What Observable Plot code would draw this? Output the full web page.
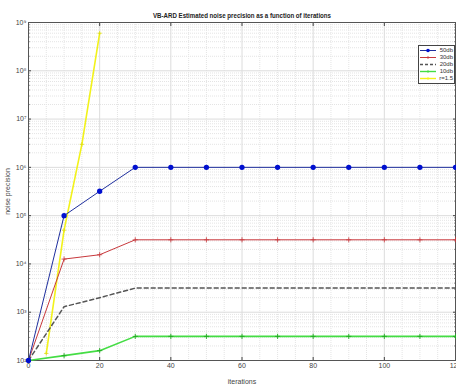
<!DOCTYPE html>
<html><head><meta charset="utf-8">
<script src="https://cdn.jsdelivr.net/npm/d3@7"></script>
<script src="https://cdn.jsdelivr.net/npm/@observablehq/plot@0.6"></script>
<style>
body{margin:0;background:#fff;}
#wrap{position:relative;width:456px;height:385px;font-family:"Liberation Sans Narrow","Liberation Sans",Arial,sans-serif;}
#legend{position:absolute;left:418px;top:45px;width:33px;background:#fff;border:1px solid #444;font-size:6px;padding:1px 1px;line-height:7px;color:#333;}
#legend div{display:flex;align-items:center;justify-content:space-between;height:7px;}
</style></head><body>
<div id="wrap"><div id="chart"></div><div id="legend"></div></div>
<script>
const iterations = [0,10,20,30,40,50,60,70,80,90,100,110,120];
const db50 = [100,1e5,3.2e5,1e6,1e6,1e6,1e6,1e6,1e6,1e6,1e6,1e6,1e6];
const db30 = [100,1.26e4,1.55e4,3.16e4,3.16e4,3.16e4,3.16e4,3.16e4,3.16e4,3.16e4,3.16e4,3.16e4,3.16e4];
const db20 = [100,1.3e3,2e3,3.16e3,3.16e3,3.16e3,3.16e3,3.16e3,3.16e3,3.16e3,3.16e3,3.16e3,3.16e3];
const db10 = [100,126,160,316,316,316,316,316,316,316,316,316,316];
const rIter = [5,10,15,20];
const r15 = [140,5e4,3e6,6e8];
const seriesNames = ["50db","30db","20db","10db","r=1.5"];
const colors = {"50db":"#1f2f9e","30db":"#c8383c","20db":"#555555","10db":"#44dd44","r=1.5":"#f2f21a"};
const xTicks = [0,20,40,60,80,100,120];
const yTicks = [1e2,1e3,1e4,1e5,1e6,1e7,1e8,1e9];
const sup = {"0":"⁰","1":"¹","2":"²","3":"³","4":"⁴","5":"⁵","6":"⁶","7":"⁷","8":"⁸","9":"⁹"};
const titleText = "VB-ARD Estimated noise precision as a function of iterations";

const rows = [];
iterations.forEach((x,i)=>{
  rows.push({s:"50db",x,y:db50[i]});
  rows.push({s:"30db",x,y:db30[i]});
  rows.push({s:"20db",x,y:db20[i]});
  rows.push({s:"10db",x,y:db10[i]});
});
rIter.forEach((x,i)=>rows.push({s:"r=1.5",x,y:r15[i]}));
const of = s => rows.filter(d=>d.s===s);

const minorY = [];
for (let e=2;e<9;e++) for (let m=2;m<10;m++) minorY.push(m*10**e);
const minorX = d3.range(0,121,5).filter(v=>v%20!==0);

const chart = Plot.plot({
  width:456, height:385,
  marginTop:22, marginBottom:25, marginLeft:28, marginRight:1,
  style:{fontFamily:'"Liberation Sans Narrow","Liberation Sans",Arial,sans-serif',fontSize:"7px",background:"#fff",color:"#444"},
  x:{domain:[0,120]},
  y:{type:"log",domain:[1e2,1e9]},
  marks:[
    Plot.ruleY(minorY,{stroke:"#e4e4e4",strokeDasharray:"1,1"}),
    Plot.ruleX(minorX,{stroke:"#e4e4e4",strokeDasharray:"1,1"}),
    Plot.ruleY(yTicks,{stroke:"#dcdcdc"}),
    Plot.ruleX(xTicks,{stroke:"#dcdcdc"}),
    Plot.axisX({ticks:xTicks,tickSize:-3,tickPadding:6,label:"iterations",labelAnchor:"center",labelArrow:"none",labelOffset:23}),
    Plot.axisX({anchor:"top",ticks:xTicks,tickSize:-3,tickFormat:()=>"",label:null}),
    Plot.axisY({ticks:yTicks,tickSize:-3,tickPadding:5,tickFormat:d=>"10"+String(Math.round(Math.log10(d))).split("").map(c=>sup[c]).join(""),label:"noise precision",labelAnchor:"center",labelArrow:"none",labelOffset:23}),
    Plot.axisY({ticks:minorY,tickSize:-1.5,tickFormat:()=>"",label:null}),
    Plot.axisY({anchor:"right",ticks:yTicks,tickSize:-3,tickFormat:()=>"",label:null}),
    Plot.axisY({anchor:"right",ticks:minorY,tickSize:-1.5,tickFormat:()=>"",label:null}),
    Plot.frame({stroke:"#555"}),
    Plot.line(of("r=1.5"),{x:"x",y:"y",stroke:colors["r=1.5"],strokeWidth:1.6}),
    Plot.dot(of("r=1.5"),{x:"x",y:"y",symbol:"plus",r:1.5,stroke:"#dede10",strokeWidth:0.8}),
    Plot.line(of("10db"),{x:"x",y:"y",stroke:colors["10db"],strokeWidth:1.6}),
    Plot.dot(of("10db"),{x:"x",y:"y",symbol:"plus",r:1.8,stroke:"#22aa22",strokeWidth:0.9}),
    Plot.line(of("20db"),{x:"x",y:"y",stroke:colors["20db"],strokeWidth:1.5,strokeDasharray:"4,3"}),
    Plot.line(of("30db"),{x:"x",y:"y",stroke:colors["30db"],strokeWidth:1}),
    Plot.dot(of("30db"),{x:"x",y:"y",symbol:"plus",r:1.8,stroke:"#c8383c",strokeWidth:0.8}),
    Plot.line(of("50db"),{x:"x",y:"y",stroke:colors["50db"],strokeWidth:1}),
    Plot.dot(of("50db"),{x:"x",y:"y",r:1.9,fill:"#0010d0",stroke:"#0010d0"}),
    Plot.text([titleText],{frameAnchor:"top",dy:-10,fontWeight:"bold",fontSize:7.5,fill:"#222",className:"ttl"})
  ]
});
document.getElementById("chart").appendChild(chart);
chart.querySelectorAll("text").forEach(t=>{
  if (t.textContent===titleText){t.setAttribute("textLength","178");t.setAttribute("lengthAdjust","spacingAndGlyphs");}
});

const lg = document.getElementById("legend");
seriesNames.forEach(s=>{
  const dash = s==="20db" ? 'stroke-dasharray="3,2"' : "";
  const w = (s==="10db"||s==="r=1.5"||s==="20db") ? 1.4 : 1;
  let mk = "";
  if (s==="50db") mk = '<circle cx="8" cy="3.5" r="1.8" fill="#0010d0"/>';
  else if (s!=="20db") mk = `<path d="M6.5,3.5h3M8,2v3" stroke="${colors[s]}" stroke-width="0.8"/>`;
  const d = document.createElement("div");
  d.innerHTML = `<svg width="16" height="7"><line x1="0" x2="16" y1="3.5" y2="3.5" stroke="${colors[s]}" stroke-width="${w}" ${dash}/>${mk}</svg><span>${s}</span>`;
  lg.appendChild(d);
});
</script>
</body></html>
